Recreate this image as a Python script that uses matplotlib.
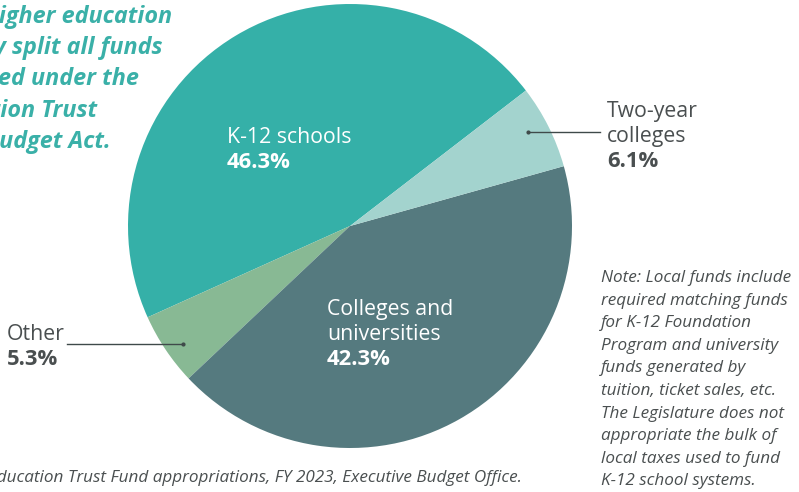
import matplotlib
matplotlib.use("Agg")
import matplotlib.pyplot as plt

# Education Trust Fund shares, FY 2023
categories = ["K-12 schools", "Other", "Colleges and universities", "Two-year colleges"]
shares = [46.3, 5.3, 42.3, 6.1]
colors = ["#35b0a8", "#88b994", "#557a7f", "#a3d3ce"]

W, H = 799, 492
fig = plt.figure(figsize=(W / 100, H / 100), dpi=100)
ax = fig.add_axes([0, 0, 1, 1])

cx, cy, r = 350, H - 226, 222
ax.pie(shares, colors=colors, startangle=37.6, counterclock=True,
       center=(cx, cy), radius=r, wedgeprops=dict(linewidth=0))
ax.set_xlim(0, W)
ax.set_ylim(0, H)
ax.axis("off")

FONT = "Open Sans"
DARK = "#4a4f50"
TEAL = "#3ab0a8"
LBL = 15.3
NOTE = 12.3


def y(px):
    return H - px


def line(x, ypx, s, **kw):
    ax.text(x, y(ypx), s, va="baseline", family=FONT, **kw)


# in-slice labels
line(227, 143, "K-12 schools", color="white", fontsize=LBL)
line(227, 168, "46.3%", color="white", fontsize=LBL + 0.5, fontweight="bold")
line(327, 315, "Colleges and", color="white", fontsize=LBL)
line(327, 340, "universities", color="white", fontsize=LBL)
line(327, 365, "42.3%", color="white", fontsize=LBL + 0.5, fontweight="bold")

# outside labels with leader lines
line(607, 117, "Two-year", color=DARK, fontsize=LBL)
line(607, 142, "colleges", color=DARK, fontsize=LBL)
line(607, 167, "6.1%", color=DARK, fontsize=LBL + 0.5, fontweight="bold")
ax.plot([528, 600], [y(132), y(132)], color="#3f4a4a", lw=1)
ax.plot([528], [y(132)], "o", color="#3f4a4a", ms=2)

line(7, 340, "Other", color=DARK, fontsize=LBL)
line(7, 365, "5.3%", color=DARK, fontsize=LBL + 0.5, fontweight="bold")
ax.plot([67, 183], [y(344), y(344)], color="#3f4a4a", lw=1)
ax.plot([183], [y(344)], "o", color="#3f4a4a", ms=2)

# headline (runs off the left edge)
head = ["K-12 and higher education", "institutions typically split all funds",
        "administered under the", "Education Trust", "Fund Budget Act."]
head_right = [172, 163, 139, 97, 111]
for i, (s, xr) in enumerate(zip(head, head_right)):
    ax.text(xr, y(23 + 31.2 * i), s, ha="right", va="baseline", family=FONT,
            fontsize=16.8, fontweight="bold", fontstyle="italic", color=TEAL)

# note
note = ["Note: Local funds include", "required matching funds",
        "for K-12 Foundation", "Program and university",
        "funds generated by", "tuition, ticket sales, etc.",
        "The Legislature does not", "appropriate the bulk of",
        "local taxes used to fund", "K-12 school systems."]
for i, s in enumerate(note):
    line(601, 282 + 22.6 * i, s, color=DARK, fontsize=NOTE, fontstyle="italic")

# source
ax.text(522, y(482), "Source: Education Trust Fund appropriations, FY 2023, Executive Budget Office.",
        ha="right", va="baseline", family=FONT, fontsize=NOTE, fontstyle="italic", color=DARK)

fig.savefig("out.png", dpi=100)
